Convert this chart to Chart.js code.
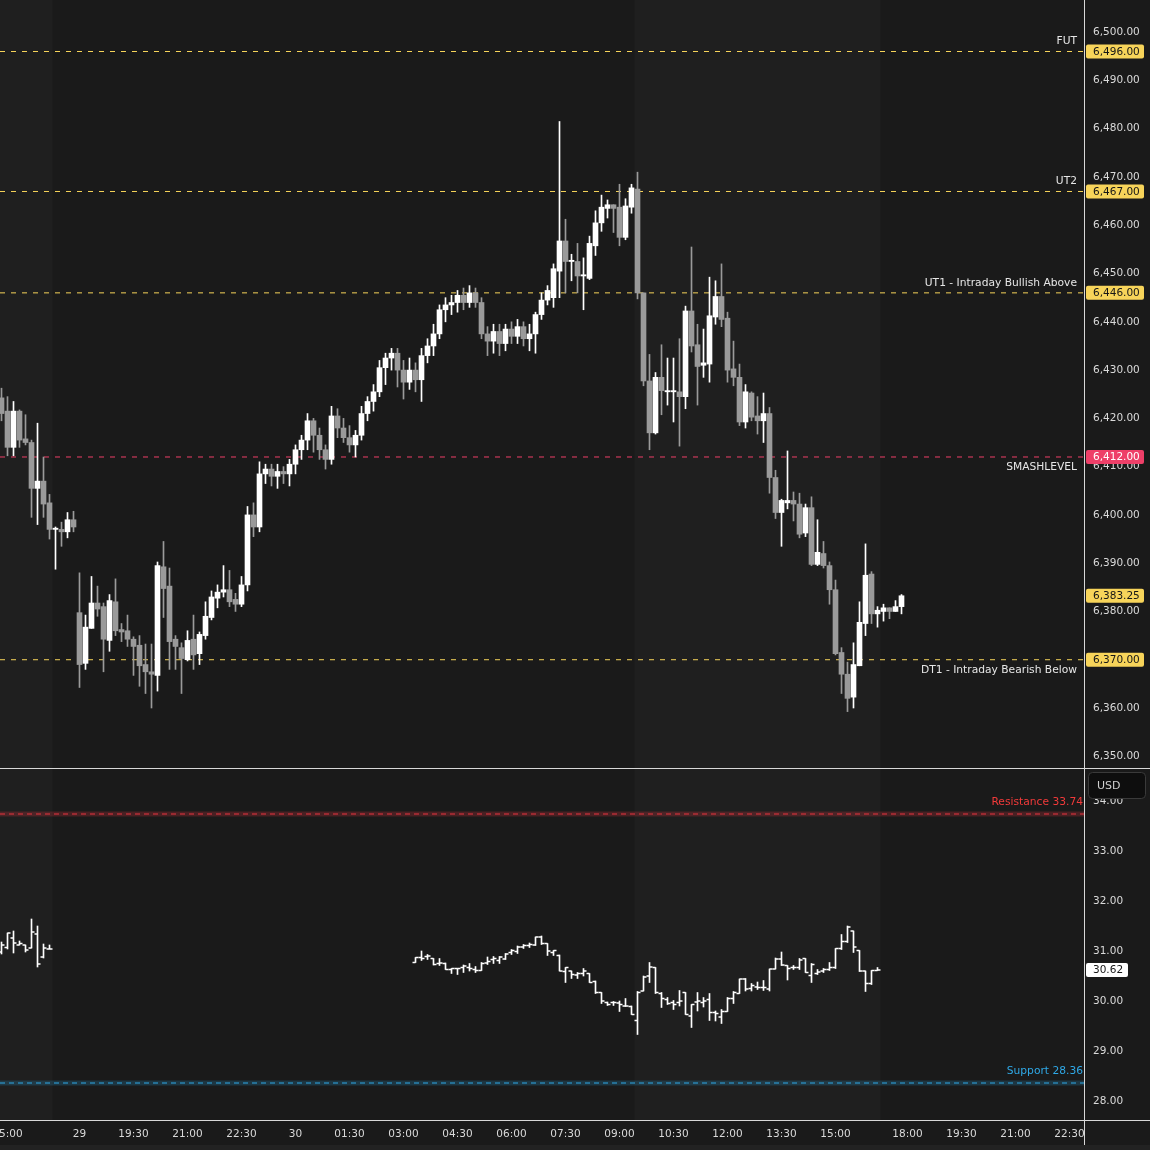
<!DOCTYPE html>
<html><head><meta charset="utf-8">
<script src="https://cdn.jsdelivr.net/npm/chart.js@4.4.1/dist/chart.umd.min.js"></script>
<style>
html,body{margin:0;padding:0;background:#1a1a1a;}
#wrap{position:relative;width:1150px;height:1150px;background:#1a1a1a;overflow:hidden;}
#c1{position:absolute;left:0;top:0;}
#c2{position:absolute;left:0;top:769px;}
#sep{position:absolute;left:0;top:768px;width:1150px;height:1px;background:#d8d8d8;}
</style></head>
<body><div id="wrap"><canvas id="c1" width="1150" height="768"></canvas><div id="sep"></div><canvas id="c2" width="1150" height="381"></canvas></div>
<script>
// ===== DATA =====
// 10-minute ES candles; index 0 = 18:00 on the 29th
const esStartIndex = -13;
const esOpen = [6424.25,6421.5,6414.0,6421.5,6415.75,6415.0,6405.5,6407.0,6402.5,6397.0,6397.0,6396.5,6399.0,
6379.75,6369.25,6376.5,6381.75,6381.0,6374.0,6382.0,6376.25,6376.0,6374.25,6373.0,6369.0,6367.5,6366.75,6389.25,6385.25,6374.25,6372.5,6370.0,6374.25,6371.25,6375.0,6378.75,6382.75,6384.0,6384.5,6382.5,
6381.5,6385.5,6400.0,6397.5,6408.5,6409.5,6408.0,6409.0,6408.5,6410.5,6413.5,6415.5,6419.5,6416.5,6413.5,6411.5,6420.5,6418.0,6416.0,6414.5,6416.5,6421.0,6423.5,6425.5,6430.5,6432.5,6433.5,6430.0,6427.5,6430.0,6428.0,6433.0,6435.0,6437.5,6442.5,6443.5,6444.0,6445.5,6444.0,6446.0,6444.0,6437.5,6436.0,6438.0,6435.5,6438.5,6437.0,6439.0,6436.5,6437.5,6441.5,6444.5,
6445.0,6450.5,6456.75,6452.5,6452.5,6449.5,6449.0,6455.75,6460.5,6463.5,6464.25,6463.75,6457.5,6463.75,6467.5,6446.0,6427.75,6417.0,6428.5,6425.5,6425.5,6425.5,6424.5,6442.25,6435.25,6431.0,6431.25,6441.0,6445.25,6440.75,6430.25,6428.5,6419.25,6425.25,6420.5,6419.5,6421.0,6407.75,6400.5,6402.5,6403.0,6402.25,6396.25,6401.5,6389.75,6392.0,6389.5,6384.5,6371.5,6367.0,6362.25,6368.75,6377.5,6387.75,6379.5,6380.0,6380.75,6380.0,6381.0];
const esHigh = [6426.25,6424.5,6423.5,6421.75,6420.75,6415.5,6419.0,6412.0,6404.25,6397.5,6398.5,6400.5,6400.75,
6388.0,6379.25,6387.25,6385.25,6381.75,6383.5,6386.75,6377.5,6379.25,6374.75,6375.0,6373.25,6373.25,6390.25,6394.5,6389.0,6375.0,6373.5,6376.0,6379.25,6375.75,6382.0,6384.25,6385.5,6389.5,6388.5,6383.75,
6387.25,6401.75,6402.5,6411.0,6410.5,6410.5,6410.5,6410.0,6411.5,6414.5,6416.5,6421.0,6420.0,6418.0,6414.5,6422.5,6422.0,6420.0,6418.5,6417.5,6422.5,6424.5,6427.0,6432.0,6433.5,6434.5,6434.5,6432.0,6432.5,6431.5,6434.5,6436.5,6439.5,6443.5,6445.0,6445.5,6446.5,6447.0,6447.5,6447.0,6445.0,6439.0,6439.5,6439.5,6439.5,6440.0,6440.5,6440.0,6439.5,6442.0,6446.0,6447.5,
6452.0,6481.5,6461.25,6454.0,6456.25,6453.25,6457.75,6463.0,6466.25,6465.25,6464.25,6468.5,6465.5,6468.5,6471.0,6446.0,6433.25,6429.5,6435.25,6432.5,6432.5,6436.5,6443.25,6455.5,6439.5,6438.5,6449.25,6448.5,6452.0,6442.0,6436.0,6431.25,6427.0,6425.5,6424.5,6425.25,6422.25,6409.25,6403.25,6413.25,6404.75,6404.5,6402.25,6403.75,6399.0,6394.5,6390.25,6386.5,6372.5,6369.5,6373.5,6382.0,6394.0,6388.25,6381.0,6381.5,6380.75,6382.25,6383.5];
const esLow = [6419.5,6412.25,6412.25,6414.0,6414.5,6399.5,6398.0,6399.5,6395.0,6388.75,6393.5,6395.25,6396.5,
6364.25,6368.0,6376.5,6379.0,6367.5,6371.75,6375.0,6373.75,6372.75,6366.75,6364.5,6363.0,6360.0,6363.5,6378.75,6368.0,6368.0,6363.0,6369.75,6368.0,6369.0,6374.25,6378.25,6380.75,6383.0,6381.0,6380.0,
6381.0,6384.25,6395.5,6396.5,6406.5,6406.0,6405.5,6406.5,6406.0,6408.5,6411.5,6413.5,6413.0,6411.5,6409.5,6410.5,6416.0,6415.0,6413.0,6412.0,6415.5,6419.5,6421.5,6424.5,6427.0,6430.0,6426.5,6424.0,6426.0,6425.5,6423.5,6431.5,6433.0,6436.5,6440.0,6441.5,6442.0,6442.5,6443.0,6443.0,6436.5,6433.0,6433.5,6433.0,6434.0,6435.5,6435.5,6435.0,6434.0,6433.5,6440.5,6443.5,
6443.0,6445.0,6446.0,6448.5,6446.0,6442.5,6448.75,6453.75,6458.75,6461.5,6458.5,6455.75,6457.0,6462.5,6444.75,6426.75,6413.5,6416.75,6420.75,6422.75,6419.25,6414.25,6422.0,6433.75,6422.75,6428.5,6427.5,6439.5,6439.0,6427.5,6426.75,6418.5,6418.0,6419.5,6416.75,6415.0,6404.5,6399.25,6393.5,6401.25,6398.75,6395.25,6395.5,6389.5,6389.5,6389.0,6381.5,6371.0,6363.0,6359.25,6360.0,6368.75,6375.0,6377.5,6376.75,6378.0,6378.5,6380.0,6379.5];
const esClose = [6421.0,6414.0,6421.5,6415.5,6415.0,6405.5,6407.0,6402.25,6397.0,6397.25,6396.5,6399.0,6397.5,
6369.0,6376.75,6381.75,6380.5,6374.25,6382.25,6376.0,6375.75,6374.25,6372.75,6368.75,6367.5,6367.0,6389.5,6384.75,6373.75,6372.75,6370.25,6374.0,6371.0,6375.25,6379.0,6383.0,6384.0,6384.5,6382.0,6381.5,
6385.5,6400.0,6397.5,6408.5,6409.5,6408.0,6409.0,6408.5,6410.5,6413.5,6415.5,6419.5,6416.5,6413.5,6411.5,6420.5,6418.0,6416.0,6414.5,6416.5,6421.0,6423.5,6425.5,6430.5,6432.5,6433.5,6430.0,6427.5,6430.0,6428.0,6433.0,6435.0,6437.5,6442.5,6443.5,6444.0,6445.5,6444.0,6446.0,6444.0,6437.5,6436.0,6438.0,6435.5,6438.5,6437.0,6439.0,6436.5,6437.5,6441.5,6444.5,6446.5,
6451.0,6456.75,6452.5,6452.75,6449.5,6449.75,6456.25,6460.5,6463.75,6464.25,6463.5,6457.5,6464.0,6467.75,6446.0,6427.75,6417.0,6428.5,6425.75,6425.75,6425.75,6424.5,6442.25,6435.0,6430.75,6431.5,6441.25,6445.25,6440.5,6430.0,6428.5,6419.25,6425.5,6420.25,6419.5,6421.0,6407.75,6400.5,6403.0,6403.0,6402.25,6396.0,6401.5,6389.75,6392.25,6389.5,6384.5,6371.25,6367.0,6362.0,6369.0,6377.75,6387.5,6379.5,6380.25,6380.75,6380.0,6381.0,6383.25];

// lower panel (10-minute OHLC bars), two trading segments
const vixSegStart = [-13, 56];
const vixSegLength = [9, 78];
const vixOpen = [30.98,31.07,31.26,31.12,31.12,31.06,31.34,30.88,31.04,
30.77,30.87,30.89,30.85,30.75,30.75,30.63,30.65,30.67,30.67,30.63,30.61,30.76,30.83,30.81,30.84,30.97,30.99,31.08,31.11,31.12,31.28,31.15,30.97,30.91,30.59,30.60,30.52,30.55,30.55,30.39,30.17,29.97,29.97,29.96,29.90,29.89,29.61,30.20,30.50,30.67,30.15,30.03,29.97,29.97,30.17,29.70,29.98,29.97,30.03,29.77,29.68,29.79,30.05,30.15,30.44,30.25,30.28,30.27,30.24,30.64,30.84,30.71,30.67,30.67,30.85,30.51,30.55,30.60,30.63,30.67,31.05,31.19,31.40,31.01,30.60,30.35,30.61];
const vixHigh = [31.18,31.36,31.40,31.20,31.12,31.64,31.50,31.14,31.12,
30.87,31.00,30.93,30.85,30.85,30.76,30.65,30.65,30.72,30.75,30.69,30.77,30.88,30.89,30.89,30.95,31.03,31.10,31.13,31.16,31.28,31.30,31.15,31.01,30.92,30.67,30.60,30.57,30.65,30.55,30.40,30.17,29.98,29.99,30.00,30.05,29.90,30.19,30.50,30.77,30.67,30.17,30.07,30.01,30.21,30.17,29.93,30.17,30.07,30.15,29.80,29.83,30.07,30.19,30.44,30.45,30.35,30.38,30.41,30.64,30.86,30.98,30.71,30.71,30.85,30.85,30.75,30.63,30.65,30.77,31.05,31.33,31.50,31.40,31.01,30.60,30.61,30.67];
const vixLow = [30.94,31.04,30.96,31.12,30.98,31.06,30.68,30.86,31.04,
30.77,30.81,30.83,30.72,30.71,30.63,30.55,30.53,30.57,30.60,30.57,30.61,30.73,30.75,30.75,30.83,30.93,30.95,31.05,31.07,31.11,31.13,30.91,30.91,30.60,30.37,30.45,30.45,30.50,30.37,30.15,29.95,29.91,29.91,29.79,29.89,29.73,29.33,30.20,30.37,30.15,29.87,29.93,29.83,29.90,29.73,29.47,29.80,29.88,29.61,29.60,29.55,29.79,29.95,30.15,30.20,30.20,30.23,30.21,30.20,30.64,30.71,30.42,30.63,30.63,30.57,30.37,30.53,30.57,30.61,30.65,31.03,31.17,30.97,30.59,30.19,30.33,30.61];
const vixClose = [31.12,31.36,31.16,31.15,31.02,31.38,30.74,31.06,31.04,
30.87,30.85,30.90,30.73,30.76,30.63,30.65,30.65,30.70,30.65,30.61,30.75,30.79,30.85,30.88,30.94,31.01,31.08,31.11,31.13,31.28,31.15,31.00,31.01,30.60,30.67,30.53,30.55,30.60,30.37,30.17,30.00,29.93,29.97,29.93,29.90,29.73,30.17,30.48,30.68,30.17,30.05,29.95,29.93,30.00,29.73,29.93,30.00,30.00,29.77,29.75,29.79,30.05,30.17,30.44,30.24,30.31,30.27,30.27,30.64,30.84,30.72,30.65,30.67,30.82,30.57,30.73,30.58,30.63,30.67,31.05,31.19,31.48,31.08,30.60,30.35,30.61,30.62];

const levelNames = ['FUT', 'UT2', 'UT1 - Intraday Bullish Above', 'SMASHLEVEL', 'DT1 - Intraday Bearish Below'];
const levelValues = [6496, 6467, 6446, 6412, 6370];
const lastPrice = 6383.25;
const vixLast = 30.62;
const resistanceValue = 33.74;
const supportValue = 28.36;

const priceTicks = [6350,6360,6370,6380,6390,6400,6410,6420,6430,6440,6450,6460,6470,6480,6490,6500];
const vixTicks = [28,29,30,31,32,33,34];
const xTickIndex = [-12, 0, 9, 18, 27, 36, 45, 54, 63, 72, 81, 90, 99, 108, 117, 126, 138, 147, 156, 165];
const xTickLabels = ['15:00','29','19:30','21:00','22:30','30','01:30','03:00','04:30','06:00','07:30','09:00','10:30','12:00','13:30','15:00','18:00','19:30','21:00','22:30'];
const sessionRanges = [[-13.25, -4.5], [92.5, 133.5]];

// ===== STYLE =====
const BG = '#1a1a1a', BG_SESSION = '#1f1f1f';
const UP = '#ffffff', DOWN = '#9a9a9a';
const FONT = "'DejaVu Sans', sans-serif";
const TXT = '#dadada';
const YELLOW = '#f7d45a', PINK = '#ee3f68';
const levelColors = [YELLOW, YELLOW, YELLOW, PINK, YELLOW];
const levelBadgeBg = [YELLOW, YELLOW, YELLOW, PINK, YELLOW];
const levelBadgeFg = ['#161616', '#161616', '#161616', '#ffffff', '#161616'];
const levelLabelAbove = [true, true, true, false, false];
const X_MIN = -13.25, X_MAX = -13.25 + 1085 / 6;
const fmt = v => Number(v).toLocaleString('en-US', {minimumFractionDigits: 2, maximumFractionDigits: 2});

// ===== BUILD =====
const esBodies = [], esWicks = [], esColors = [];
for (let i = 0; i < esOpen.length; i++) {
  const k = esStartIndex + i;
  esBodies.push({x: k, y: [esOpen[i], esClose[i]]});
  esWicks.push({x: k, y: [esLow[i], esHigh[i]]});
  esColors.push(esClose[i] >= esOpen[i] ? UP : DOWN);
}
const vixHL = [], vixO = [], vixC = [];
let p = 0;
vixSegStart.forEach((s, si) => {
  for (let j = 0; j < vixSegLength[si]; j++, p++) {
    const k = s + j;
    vixHL.push({x: k, y: [vixLow[p], vixHigh[p]]});
    vixO.push({x: k - 0.25, y: vixOpen[p]});
    vixC.push({x: k + 0.25, y: vixClose[p]});
  }
});

function hline(v, color, width, dash) {
  return {type: 'line', data: [{x: X_MIN, y: v}, {x: X_MAX, y: v}], borderColor: color, borderWidth: width,
    borderDash: dash, pointRadius: 0, order: 10, fill: false};
}

function shade(chart) {
  const {ctx, chartArea: a, scales: {x}} = chart;
  ctx.save();
  ctx.fillStyle = BG;
  ctx.fillRect(0, 0, chart.width, chart.height);
  ctx.fillStyle = BG_SESSION;
  sessionRanges.forEach(([s, e]) => {
    const x0 = x.getPixelForValue(s), x1 = x.getPixelForValue(e);
    ctx.fillRect(x0, a.top, x1 - x0, a.bottom - a.top);
  });
  ctx.restore();
}
function badge(ctx, x, y, w, h, bg, fg, text) {
  ctx.fillStyle = bg;
  ctx.beginPath();
  if (ctx.roundRect) ctx.roundRect(x, y - h / 2, w, h, 2); else ctx.rect(x, y - h / 2, w, h);
  ctx.fill();
  ctx.fillStyle = fg;
  ctx.font = '10.5px ' + FONT;
  ctx.textAlign = 'left';
  ctx.textBaseline = 'middle';
  ctx.fillText(text, x + 7, y + 0.5);
}

const yScaleBase = {
  position: 'right', grid: {display: false}, border: {display: false},
  ticks: {color: TXT, font: {family: FONT, size: 10.5}, padding: 0, callback: v => fmt(v)}
};

// ===== TOP CHART =====
const topPlugin = {
  id: 'topDecor',
  beforeDraw: shade,
  afterDatasetsDraw(chart) {
    const {ctx, chartArea: a, scales: {y}} = chart;
    ctx.save();
    ctx.font = '10.7px ' + FONT;
    ctx.fillStyle = '#e6e6e6';
    ctx.textAlign = 'right';
    ctx.textBaseline = 'middle';
    levelNames.forEach((n, i) => {
      const py = y.getPixelForValue(levelValues[i]);
      ctx.fillText(n, a.right - 8, py + (levelLabelAbove[i] ? -10 : 10));
    });
    ctx.restore();
  },
  afterDraw(chart) {
    const {ctx, chartArea: a, scales: {y}} = chart;
    ctx.save();
    ctx.fillStyle = '#d8d8d8';
    ctx.fillRect(a.right - 1, 0, 1, chart.height);
    levelValues.forEach((v, i) => badge(ctx, a.right + 1, y.getPixelForValue(v), 58, 14, levelBadgeBg[i], levelBadgeFg[i], fmt(v)));
    badge(ctx, a.right + 1, y.getPixelForValue(lastPrice), 58, 14, YELLOW, '#161616', fmt(lastPrice));
    ctx.restore();
  }
};

new Chart(document.getElementById('c1'), {
  type: 'bar',
  data: {datasets: [
    {type: 'bar', data: esBodies, backgroundColor: esColors, barThickness: 5, grouped: false, minBarLength: 1, order: 0},
    {type: 'bar', data: esWicks, backgroundColor: esColors, barThickness: 1, grouped: false, minBarLength: 1, order: 1},
    ...levelValues.map((v, i) => hline(v, levelColors[i], 1, [5, 6]))
  ]},
  options: {
    responsive: false, animation: false, events: [],
    layout: {padding: 0, autoPadding: false},
    plugins: {legend: {display: false}, tooltip: {enabled: false}},
    scales: {
      x: {type: 'linear', min: X_MIN, max: X_MAX, offset: false, display: false},
      y: Object.assign({}, yScaleBase, {
        min: 6347.57, max: 6506.67,
        afterBuildTicks: s => { s.ticks = priceTicks.map(v => ({value: v})); },
        afterFit: s => { s.width = 65; s.paddingTop = 0; s.paddingBottom = 0; }
      })
    }
  },
  plugins: [topPlugin]
});

// ===== BOTTOM CHART =====
const botPlugin = {
  id: 'botDecor',
  beforeDraw: shade,
  afterDatasetsDraw(chart) {
    const {ctx, chartArea: a, scales: {y}} = chart;
    ctx.save();
    ctx.font = '10.7px ' + FONT;
    ctx.textAlign = 'right';
    ctx.textBaseline = 'middle';
    ctx.fillStyle = '#f23a3a';
    ctx.fillText('Resistance ' + resistanceValue.toFixed(2), a.right - 2, y.getPixelForValue(resistanceValue) - 12);
    ctx.fillStyle = '#2fa8e6';
    ctx.fillText('Support ' + supportValue.toFixed(2), a.right - 2, y.getPixelForValue(supportValue) - 12);
    ctx.restore();
  },
  afterDraw(chart) {
    const {ctx, chartArea: a, scales: {y}} = chart;
    ctx.save();
    ctx.fillStyle = '#d8d8d8';
    ctx.fillRect(a.right - 1, 0, 1, chart.height);
    ctx.fillRect(0, a.bottom, chart.width, 1);
    badge(ctx, a.right + 1, y.getPixelForValue(vixLast), 42, 14, '#ffffff', '#161616', vixLast.toFixed(2));
    // currency box
    ctx.fillStyle = '#0e0e0e';
    ctx.strokeStyle = '#3a3a3a';
    ctx.lineWidth = 1;
    ctx.beginPath();
    if (ctx.roundRect) ctx.roundRect(a.right + 3.5, 3.5, 57, 26, 4); else ctx.rect(a.right + 3.5, 3.5, 57, 26);
    ctx.fill(); ctx.stroke();
    ctx.fillStyle = '#cfcfcf';
    ctx.font = '11px ' + FONT;
    ctx.textAlign = 'left';
    ctx.textBaseline = 'middle';
    ctx.fillText('USD', a.right + 12, 17);
    ctx.fillStyle = '#222222';
    ctx.fillRect(0, chart.height - 5, chart.width, 5);
    ctx.restore();
  }
};

new Chart(document.getElementById('c2'), {
  type: 'bar',
  data: {datasets: [
    {type: 'bar', data: vixHL, backgroundColor: '#ffffff', barThickness: 1, grouped: false, minBarLength: 1, order: 0},
    {type: 'line', data: vixO, showLine: false, pointStyle: 'line', pointRadius: 1.5, pointBorderWidth: 1.5, pointBorderColor: '#ffffff', order: 0},
    {type: 'line', data: vixC, showLine: false, pointStyle: 'line', pointRadius: 1.5, pointBorderWidth: 1.5, pointBorderColor: '#ffffff', order: 0},
    hline(resistanceValue, 'rgba(242,54,69,0.22)', 5, []),
    hline(resistanceValue, '#e8343f', 1, [5, 4]),
    hline(supportValue, 'rgba(47,168,230,0.2)', 5, []),
    hline(supportValue, '#2fa8e6', 1, [5, 4])
  ]},
  options: {
    responsive: false, animation: false, events: [],
    layout: {padding: 0, autoPadding: false},
    plugins: {legend: {display: false}, tooltip: {enabled: false}},
    scales: {
      x: {type: 'linear', min: X_MIN, max: X_MAX, offset: false, position: 'bottom',
        grid: {display: false}, border: {display: false},
        afterBuildTicks: s => { s.ticks = xTickIndex.map(v => ({value: v})); },
        afterFit: s => { s.height = 30; s.paddingLeft = 0; s.paddingRight = 0; },
        ticks: {autoSkip: false, maxRotation: 0, color: TXT, font: {family: FONT, size: 10.5}, padding: 0,
          callback: (v, i) => xTickLabels[i]}
      },
      y: Object.assign({}, yScaleBase, {
        min: 27.62, max: 34.64,
        afterBuildTicks: s => { s.ticks = vixTicks.map(v => ({value: v})); },
        afterFit: s => { s.width = 65; s.paddingTop = 0; s.paddingBottom = 0; }
      })
    }
  },
  plugins: [botPlugin]
});
</script>
</body></html>
